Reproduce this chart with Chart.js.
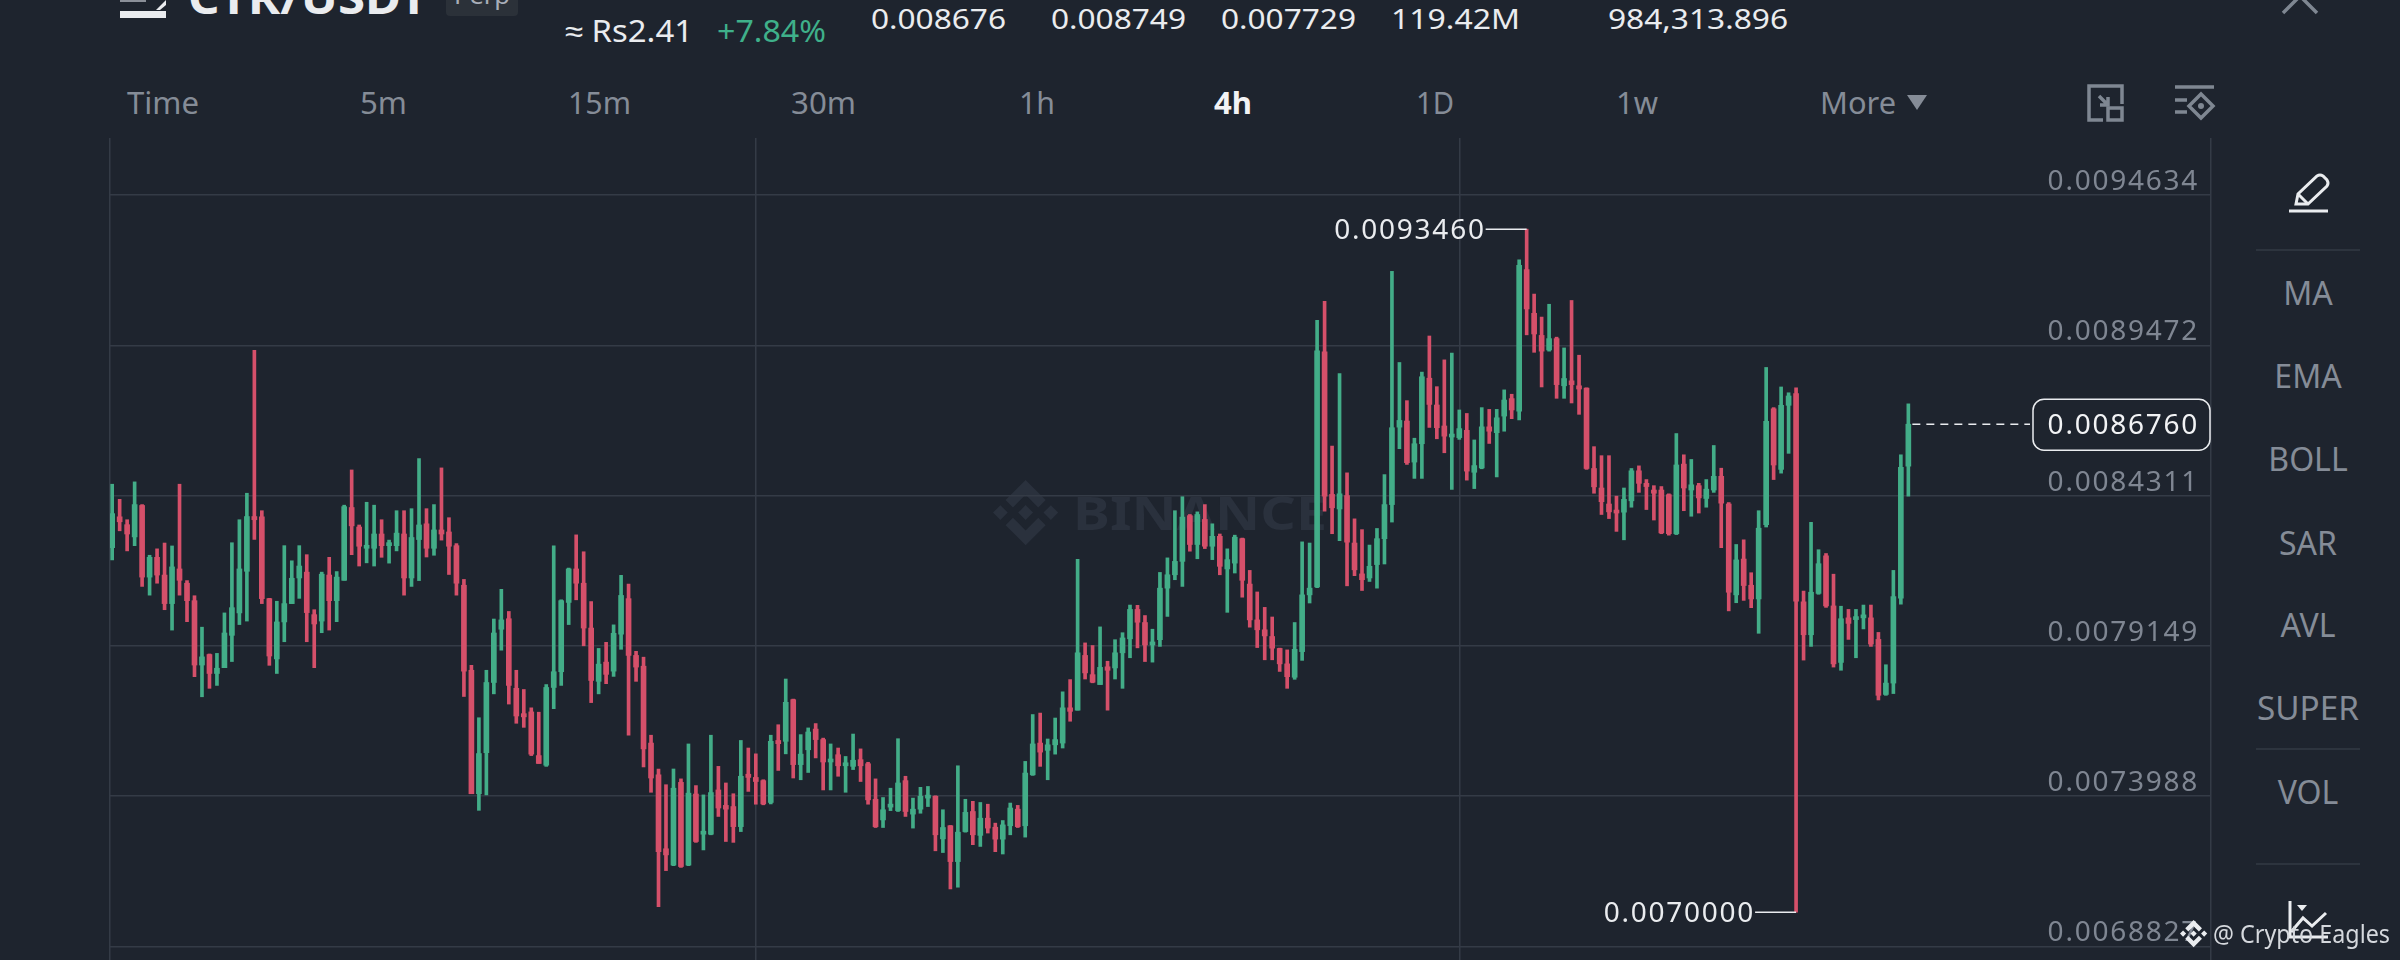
<!DOCTYPE html>
<html>
<head>
<meta charset="utf-8">
<title>CTR/USDT Perp 4h</title>
<script src="https://cdn.jsdelivr.net/npm/chart.js@4"></script>
<style>
  html, body { margin: 0; padding: 0; background: #1e242e; width: 2400px; height: 960px; overflow: hidden; }
  svg, canvas { position: absolute; left: 0; top: 0; }
  text { font-family: "Noto Sans", sans-serif; }
  .tab { font-size: 30px; fill: #858c97; }
  .stat { font-size: 28px; fill: #eaecef; }
  .side { font-size: 32px; fill: #858c97; text-anchor: middle; }
</style>
</head>
<body>

<svg width="2400" height="960" viewBox="0 0 2400 960">
  <defs>
    <path id="bnb" d="M38.73 53.2l24.59-24.58 24.6 24.6 14.3-14.31L63.32 0 24.42 38.9zM0 63.31l14.3-14.31 14.31 14.31-14.31 14.3zM38.73 73.41l24.59 24.59 24.6-24.6 14.31 14.29-38.9 38.91-38.91-38.88v-.02zM98 63.31l14.3-14.31 14.31 14.3-14.31 14.32zM77.83 63.3L63.32 48.78 52.59 59.51l-1.24 1.23-2.54 2.54 14.51 14.5 14.51-14.47z"/>
  </defs>

  <!-- header -->
  <rect x="120" y="11" width="46" height="7" fill="#eaecef"/>
  <rect x="120" y="0" width="26" height="2" fill="#8a8f98"/>
  <path d="M156 10 L166 0 L166 5 L160 10 Z" fill="#eaecef"/>
  <text x="188" y="14" font-size="44" font-weight="700" fill="#eaecef" textLength="240" lengthAdjust="spacingAndGlyphs">CTR/USDT</text>
  <rect x="446" y="-10" width="72" height="26" rx="4" fill="#2b3139"/>
  <text x="454" y="4" font-size="24" fill="#a8aeb8" textLength="56" lengthAdjust="spacingAndGlyphs">Perp</text>
  <text x="565" y="42" font-size="31" fill="#eaecef" textLength="128" lengthAdjust="spacingAndGlyphs">≈ Rs2.41</text>
  <text x="717" y="42" font-size="31" fill="#3fb08a" textLength="109" lengthAdjust="spacingAndGlyphs">+7.84%</text>
  <text class="stat" x="871" y="29" textLength="135" lengthAdjust="spacingAndGlyphs">0.008676</text>
  <text class="stat" x="1051" y="29" textLength="135" lengthAdjust="spacingAndGlyphs">0.008749</text>
  <text class="stat" x="1221" y="29" textLength="135" lengthAdjust="spacingAndGlyphs">0.007729</text>
  <text class="stat" x="1391" y="29" textLength="129" lengthAdjust="spacingAndGlyphs">119.42M</text>
  <text class="stat" x="1608" y="29" textLength="180" lengthAdjust="spacingAndGlyphs">984,313.896</text>
  <path d="M2283 13 L2300 -4 L2317 13" fill="none" stroke="#7f8792" stroke-width="3.5"/>

  <!-- timeframe tabs -->
  <text class="tab" x="127" y="114" textLength="72" lengthAdjust="spacingAndGlyphs">Time</text>
  <text class="tab" x="360" y="114" textLength="47" lengthAdjust="spacingAndGlyphs">5m</text>
  <text class="tab" x="568" y="114" textLength="63" lengthAdjust="spacingAndGlyphs">15m</text>
  <text class="tab" x="791" y="114" textLength="65" lengthAdjust="spacingAndGlyphs">30m</text>
  <text class="tab" x="1019" y="114" textLength="36" lengthAdjust="spacingAndGlyphs">1h</text>
  <text class="tab" x="1214" y="114" textLength="38" lengthAdjust="spacingAndGlyphs" style="fill:#f2f3f5;font-weight:700">4h</text>
  <text class="tab" x="1416" y="114" textLength="38" lengthAdjust="spacingAndGlyphs">1D</text>
  <text class="tab" x="1616" y="114" textLength="42" lengthAdjust="spacingAndGlyphs">1w</text>
  <text class="tab" x="1820" y="114" textLength="76" lengthAdjust="spacingAndGlyphs">More</text>
  <path d="M1907 95 H1927 L1917 110 Z" fill="#858c97"/>

  <!-- chart toolbar icons -->
  <g fill="none" stroke="#7f8792" stroke-width="3.5">
    <path d="M2089 108 V86 H2122 V104"/>
    <path d="M2089 108 V120 H2103"/>
    <path d="M2099 96 L2108 105 M2108 97 V105 H2100"/>
    <rect x="2108" y="108" width="14" height="12"/>
    <path d="M2175 87 H2214"/>
    <path d="M2175 100 H2187 M2175 112 H2187"/>
    <path d="M2201 94 L2213 106 L2201 118 L2189 106 Z"/>
  </g>
  <circle cx="2201" cy="106" r="3" fill="#7f8792"/>

  <!-- watermark, under the candles -->
  <use href="#bnb" transform="translate(993 480) scale(0.515)" fill="#2a313d"/>
  <text x="1073" y="530" font-size="46" font-weight="700" fill="#2a313d" textLength="254" lengthAdjust="spacingAndGlyphs">BINANCE</text>

  <!-- sidebar -->
  <g fill="none" stroke="#eaecef" stroke-width="3">
    <path d="M2296 204 L2298 194 L2317 176 Q2320 174 2323 176 L2327 180 Q2329 183 2327 186 L2308 204 Z"/>
    <path d="M2298 194 L2308 204"/>
    <path d="M2289 211 H2328"/>
  </g>
  <g stroke="#333a45" stroke-width="1.5">
    <path d="M2256 250 H2360"/>
    <path d="M2256 749 H2360"/>
    <path d="M2256 864 H2360"/>
  </g>
  <text class="side" x="2308" y="305">MA</text>
  <text class="side" x="2308" y="388">EMA</text>
  <text class="side" x="2308" y="471">BOLL</text>
  <text class="side" x="2308" y="555">SAR</text>
  <text class="side" x="2308" y="637">AVL</text>
  <text class="side" x="2308" y="720" textLength="102" lengthAdjust="spacingAndGlyphs">SUPER</text>
  <text class="side" x="2308" y="804">VOL</text>
  <g fill="none" stroke="#eaecef" stroke-width="3">
    <path d="M2290 901 V937 H2328"/>
    <path d="M2291 932 L2303 918 L2312 926 L2326 913"/>
  </g>
  <path d="M2297 905 H2307 L2302 911 Z" fill="#eaecef"/>
</svg>

<canvas id="chart" width="2400" height="960" style="width:2400px;height:960px"></canvas>

<svg width="2400" height="960" viewBox="0 0 2400 960">
  <use href="#bnb" transform="translate(2180 920) scale(0.215)" fill="#eaecef"/>
  <text x="2213" y="943" font-size="25" fill="#d5d8dd" textLength="177" lengthAdjust="spacingAndGlyphs">@ Crypto Eagles</text>
</svg>

<script>
// prices in millionths of a USDT
var highs = [
  8470,8418,8348,8478,8400,8226,8248,8268,8258,8470,
  8139,8087,7979,7887,7889,8028,8269,8348,8439,8930,
  8379,8078,8068,8259,8207,8259,8228,8039,8168,8219,
  8170,8398,8519,8330,8408,8398,8348,8278,8379,8379,
  8386,8558,8386,8400,8526,8355,8266,8143,7848,7668,
  7831,8007,8109,8033,7831,7765,7702,7687,7782,8258,
  8073,8182,8296,8238,8067,7906,7927,7987,8157,8127,
  7896,7876,7608,7492,7438,7492,7458,7578,7435,7403,
  7608,7501,7444,7407,7590,7564,7544,7455,7608,7644,
  7801,7732,7610,7633,7648,7598,7578,7564,7535,7612,
  7561,7515,7458,7394,7426,7596,7467,7392,7429,7432,
  7400,7352,7298,7503,7388,7381,7377,7371,7306,7315,
  7375,7367,7518,7679,7684,7595,7667,7757,7799,8212,
  7925,7916,7980,7862,7936,7960,8055,8054,8019,7972,
  8167,8217,8379,8427,8366,8375,8400,8334,8299,8248,
  8295,8285,8174,8100,8047,8014,7907,7901,7995,8272,
  8268,9033,9098,8601,8850,8509,8351,8314,8261,8318,
  8503,9201,8888,8757,8628,8855,8979,8805,8897,8920,
  8725,8713,8622,8733,8727,8727,8794,8779,9241,9346,
  9123,9044,9088,8975,8938,9101,8913,8801,8599,8568,
  8568,8429,8457,8524,8533,8486,8465,8462,8437,8644,
  8571,8555,8473,8486,8603,8525,8407,8263,8279,8166,
  8379,8871,8733,8804,8784,8801,8103,8339,8245,8232,
  8161,8051,8040,8040,8055,8055,7961,7850,8174,8571,
  8746]
var lows = [
  8210,8310,8241,8259,8119,8089,8130,8039,7969,8089,
  7998,7809,7740,7769,7779,7840,7861,7988,8000,8280,
  8060,7848,7820,7929,8060,8078,7929,7840,7960,7969,
  7998,8140,8228,8189,8200,8189,8219,8199,8241,8089,
  8119,8139,8220,8226,8278,8160,8089,7741,7407,7350,
  7403,7750,7900,7715,7649,7635,7538,7511,7501,7699,
  7779,7988,8073,7915,7720,7750,7785,7810,7903,7608,
  7793,7499,7412,7019,7143,7160,7154,7160,7240,7214,
  7266,7329,7243,7240,7277,7415,7371,7369,7372,7487,
  7544,7461,7455,7480,7530,7420,7420,7467,7412,7490,
  7449,7371,7291,7291,7349,7346,7329,7289,7340,7363,
  7211,7205,7080,7086,7275,7232,7226,7272,7208,7200,
  7266,7291,7258,7470,7501,7455,7543,7564,7656,7694,
  7801,7788,7782,7694,7801,7769,7874,7908,7861,7859,
  7913,8016,8142,8119,8240,8214,8249,8211,8159,8030,
  8165,8082,7979,7909,7867,7867,7827,7769,7800,7865,
  8062,8115,8377,8300,8276,8121,8156,8105,8136,8113,
  8196,8340,8592,8538,8490,8490,8665,8626,8578,8452,
  8624,8484,8455,8523,8610,8495,8652,8695,8691,8983,
  8923,8804,8927,8765,8765,8749,8710,8521,8439,8366,
  8352,8308,8279,8391,8442,8383,8347,8300,8295,8297,
  8379,8360,8371,8391,8442,8252,8035,8063,8071,8046,
  7958,8323,8486,8508,8576,7000,7866,7913,8092,8047,
  7842,7831,7937,7874,7973,7913,7729,7745,7751,8058,
  8429]
var opens = [
  8252,8358,8331,8289,8397,8151,8219,8158,8060,8179,
  8130,8070,7849,7885,7820,7840,7951,8028,8171,8359,
  8358,8077,7870,7997,8060,8148,8168,8022,8000,8158,
  8070,8140,8390,8323,8250,8250,8299,8259,8259,8299,
  8148,8280,8334,8250,8313,8306,8259,8123,7831,7407,
  7548,7789,7972,8008,7769,7682,7688,7538,7505,7772,
  7826,8064,8179,8130,7976,7793,7859,7828,7955,8077,
  7882,7845,7581,7472,7218,7162,7446,7162,7406,7268,
  7268,7420,7367,7363,7294,7474,7463,7452,7377,7590,
  7587,7730,7507,7558,7629,7593,7516,7541,7503,7501,
  7524,7510,7388,7317,7361,7349,7452,7337,7354,7392,
  7398,7252,7297,7174,7277,7346,7264,7323,7292,7251,
  7297,7354,7297,7472,7581,7556,7575,7581,7702,7694,
  7882,7816,7782,7843,7839,7891,7939,8040,7995,7918,
  7936,8113,8159,8205,8362,8263,8349,8257,8291,8179,
  8199,8283,8127,8004,7970,7947,7906,7853,7807,7895,
  8090,8117,8925,8435,8385,8431,8268,8162,8148,8194,
  8283,8400,8666,8687,8546,8609,8834,8742,8670,8632,
  8630,8655,8511,8526,8667,8647,8704,8764,8721,9207,
  9057,8981,8931,8970,8808,8825,8808,8800,8524,8457,
  8402,8379,8374,8413,8516,8473,8450,8450,8434,8300,
  8539,8450,8465,8421,8450,8497,8402,8090,8213,8123,
  8076,8331,8729,8521,8741,8781,8066,7953,8095,8224,
  8052,7858,8011,8005,8011,8011,7937,7748,7787,8079,
  8532]
var closes = [
  8369,8341,8299,8400,8151,8219,8158,8060,8186,8140,
  8070,7849,7877,7820,7838,7959,8046,8179,8359,8348,
  8077,7880,7997,8060,8147,8189,8029,7990,8161,8070,
  8151,8393,8327,8257,8259,8299,8259,8268,8302,8148,
  8287,8330,8250,8313,8299,8257,8130,7828,7407,7545,
  7789,7959,8004,7779,7674,7671,7543,7511,7772,7826,
  8070,8179,8130,7976,7796,7852,7817,7958,8088,7882,
  7842,7561,7461,7208,7197,7426,7157,7409,7243,7275,
  7411,7358,7354,7294,7467,7463,7449,7372,7587,7579,
  7721,7507,7543,7619,7593,7516,7524,7503,7510,7522,
  7503,7386,7294,7352,7371,7444,7346,7354,7398,7398,
  7266,7291,7174,7275,7343,7266,7323,7289,7251,7300,
  7358,7294,7478,7578,7550,7575,7593,7702,7690,7891,
  7822,7790,7841,7831,7891,7942,8040,7996,7918,7928,
  8113,8159,8205,8357,8263,8366,8257,8291,8188,8211,
  8288,8140,8004,7970,7949,7907,7853,7809,7903,8090,
  8113,8928,8429,8389,8437,8271,8176,8142,8188,8283,
  8400,8664,8689,8544,8609,8839,8744,8664,8635,8641,
  8661,8515,8534,8667,8652,8698,8759,8725,9222,9072,
  8986,8927,8970,8812,8833,8812,8797,8524,8461,8410,
  8375,8371,8418,8516,8473,8462,8439,8303,8300,8536,
  8457,8468,8423,8453,8497,8405,8099,8210,8122,8076,
  8319,8686,8536,8741,8773,8068,7953,8099,8197,8052,
  7853,8008,7992,8011,8021,7921,7745,7787,8084,8528,
  8676]

var yTicks = [9463.4, 8947.2, 8431.1, 7914.9, 7398.8, 6882.7]
var yTickLabels = ["0.0094634", "0.0089472", "0.0084311", "0.0079149", "0.0073988", "0.0068827"]
var xGridCandles = [-0.29, 86, 180, 280.44]

var GREEN = "#43ad88"
var RED = "#d5506a"
var GRID = "#343b46"
var WHITE = "#eaecef"
var FONT = '"Noto Sans", sans-serif'

function priceText(v) {
    return (v / 1000000).toFixed(7)
}

var candleColors = closes.map((c, i) => c >= opens[i] ? GREEN : RED)

var markers = {
    id: "markers",
    beforeDraw(chart) {
        chart.ctx.letterSpacing = "1.75px"
    },
    afterDatasetsDraw(chart) {
        var ctx = chart.ctx
        var x = chart.scales.x
        var y = chart.scales.y

        ctx.save()
        ctx.font = "28px " + FONT
        ctx.fillStyle = WHITE
        ctx.strokeStyle = WHITE
        ctx.textBaseline = "middle"
        ctx.textAlign = "right"
        ctx.lineWidth = 1.5

        // highest high and lowest low
        var top = highs.indexOf(Math.max(...highs))
        var bottom = lows.indexOf(Math.min(...lows))
        var extremes = [[top, highs[top]], [bottom, lows[bottom]]]
        extremes.forEach(function (e) {
            var px = x.getPixelForValue(e[0])
            var py = y.getPixelForValue(e[1])
            ctx.beginPath()
            ctx.moveTo(px - 41, py)
            ctx.lineTo(px, py)
            ctx.stroke()
            ctx.fillText(priceText(e[1]), px - 41, py + 2)
        })

        // last price line and box
        var last = closes.length - 1
        var lastY = y.getPixelForValue(closes[last])
        ctx.setLineDash([8, 6])
        ctx.beginPath()
        ctx.moveTo(x.getPixelForValue(last) + 4, lastY)
        ctx.lineTo(2030, lastY)
        ctx.stroke()
        ctx.setLineDash([])

        ctx.fillStyle = "#1e242e"
        ctx.beginPath()
        ctx.roundRect(2033, lastY - 25, 177, 51, 11)
        ctx.fill()
        ctx.stroke()
        ctx.fillStyle = "#f2f3f5"
        ctx.fillText(priceText(closes[last]), 2199, lastY + 2)
        ctx.restore()
    }
}

new Chart(document.getElementById("chart"), {
    type: "bar",
    plugins: [markers],
    data: {
        datasets: [
            {
                label: "wick",
                data: highs.map((h, i) => ({ x: i, y: [lows[i], h] })),
                backgroundColor: candleColors,
                barThickness: 3,
                grouped: false
            },
            {
                label: "body",
                data: opens.map((o, i) => ({ x: i, y: [o, closes[i]] })),
                backgroundColor: candleColors,
                barThickness: 5,
                minBarLength: 3,
                grouped: false
            }
        ]
    },
    options: {
        responsive: false,
        animation: false,
        devicePixelRatio: 1,
        layout: { padding: { left: 110, top: 138, right: 189, bottom: 0 } },
        plugins: { legend: { display: false }, tooltip: { enabled: false } },
        scales: {
            x: {
                type: "linear",
                offset: false,
                min: xGridCandles[0],
                max: xGridCandles[3],
                afterBuildTicks: axis => { axis.ticks = xGridCandles.map(v => ({ value: v })) },
                grid: { color: GRID, lineWidth: 1.5, drawTicks: false, offset: false },
                border: { display: false },
                ticks: { display: false }
            },
            y: {
                position: "right",
                min: 6836,
                max: 9659,
                afterBuildTicks: axis => { axis.ticks = yTicks.map(v => ({ value: v })) },
                // labels sit inside the plot, the axis itself takes no room
                afterFit: axis => {
                    axis.width = 0
                    axis.paddingTop = 0
                    axis.paddingBottom = 0
                },
                grid: { color: GRID, lineWidth: 1.5, drawTicks: false },
                border: { display: false },
                ticks: {
                    mirror: true,
                    padding: -12,
                    labelOffset: -13,
                    autoSkip: false,
                    color: "#7f8692",
                    font: { family: FONT, size: 28 },
                    callback: (v, i) => yTickLabels[i]
                }
            }
        }
    }
})
</script>
</body>
</html>
